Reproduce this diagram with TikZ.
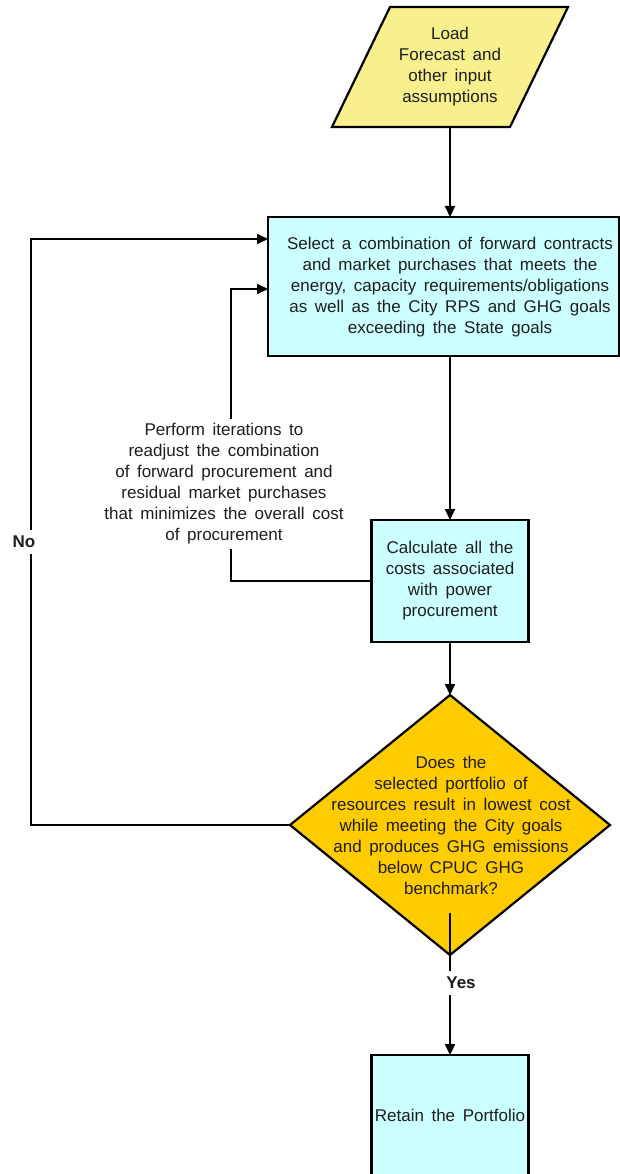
\documentclass[tikz,border=0pt]{standalone}
\usepackage{fontspec}
\setmainfont[WordSpace=1.6]{Liberation Sans}
\usetikzlibrary{shapes.geometric,arrows.meta}
\definecolor{paryel}{RGB}{248,240,140}
\definecolor{boxcyan}{RGB}{204,255,255}
\definecolor{diagold}{RGB}{255,204,0}
\definecolor{ink}{RGB}{30,30,30}
\begin{document}
\begin{tikzpicture}[x=1pt,y=-1pt,
  txt/.style={align=center,font=\fontsize{17}{21}\selectfont,text=ink,inner sep=0pt},
  lbl/.style={font=\fontsize{17}{21}\selectfont\bfseries,text=ink,fill=white,inner xsep=3pt,inner ysep=6pt},
  boxnode/.style={draw=black,line width=2.2pt,fill=boxcyan,inner sep=0pt,outer sep=0pt},
  line/.style={draw=black,line width=2.2pt},
  arr/.style={line,-{Triangle[length=11pt,width=10pt]}}]
\useasboundingbox (0,0) rectangle (620,1174);
% input parallelogram
\coordinate (pbl) at (332,127);
\coordinate (pbr) at (510,127);
\coordinate (ptr) at (568,7);
\coordinate (ptl) at (390,7);
\draw[line, fill=paryel] (pbl) -- (pbr) -- (ptr) -- (ptl) -- cycle;
\node[txt] (part) at (450,67) {Load\\Forecast and\\other input\\assumptions};
\coordinate (pout) at (450,127);
% box 1
\node[boxnode, minimum width=351pt, minimum height=139pt] (box1) at (443.5,286.5) {};
\node[txt] (box1t) at (450,287) {Select a combination of forward contracts\\and market purchases that meets the\\energy, capacity requirements/obligations\\as well as the City RPS and GHG goals\\exceeding the State goals};
\coordinate (in1) at (268,239);
\coordinate (in2) at (268,289);
% box 2
\node[boxnode, minimum width=157pt, minimum height=122pt, txt] (box2) at (450,581) {Calculate all the\\costs associated\\with power\\procurement};
% diamond
\node[diamond, draw=black, line width=2.2pt, fill=diagold, minimum width=320pt, minimum height=260pt, inner sep=0pt, outer sep=0pt] (dia) at (450,825) {};
\node[txt] (diat) at (451,825) {Does the\\selected portfolio of\\resources result in lowest cost\\while meeting the City goals\\and produces GHG emissions\\below CPUC GHG\\benchmark?};
% box 3
\node[boxnode, minimum width=157pt, minimum height=121pt, txt] (box3) at (450,1115.5) {Retain the Portfolio};
% connectors
\draw[arr] (pout) -- (pout |- box1.north);
\draw[arr] (box2.north |- box1.south) -- (box2.north);
\draw[arr] (box2.south) -- (dia.north);
\coordinate (ystart) at (450,913);
\draw[arr] (ystart) -- (ystart |- box3.north);
% iteration loop
\coordinate (itx) at (231,580);
\draw[line] (box2.west) -- (box2.west -| itx) -- (itx);
\draw[arr] (itx) |- (in2);
\node[txt, fill=white, inner xsep=2pt, inner ysep=5pt] (iter) at (224,484) {Perform iterations to\\readjust the combination\\of forward procurement and\\residual market purchases\\that minimizes the overall cost\\of procurement};
% No loop
\coordinate (nox) at (31,542);
\draw[line] (dia.west) -| (nox);
\draw[arr] (nox) |- (in1);
\node[lbl] (no) at (24,542) {No};
\node[lbl] (yes) at (461,983) {Yes};
\end{tikzpicture}
\end{document}
